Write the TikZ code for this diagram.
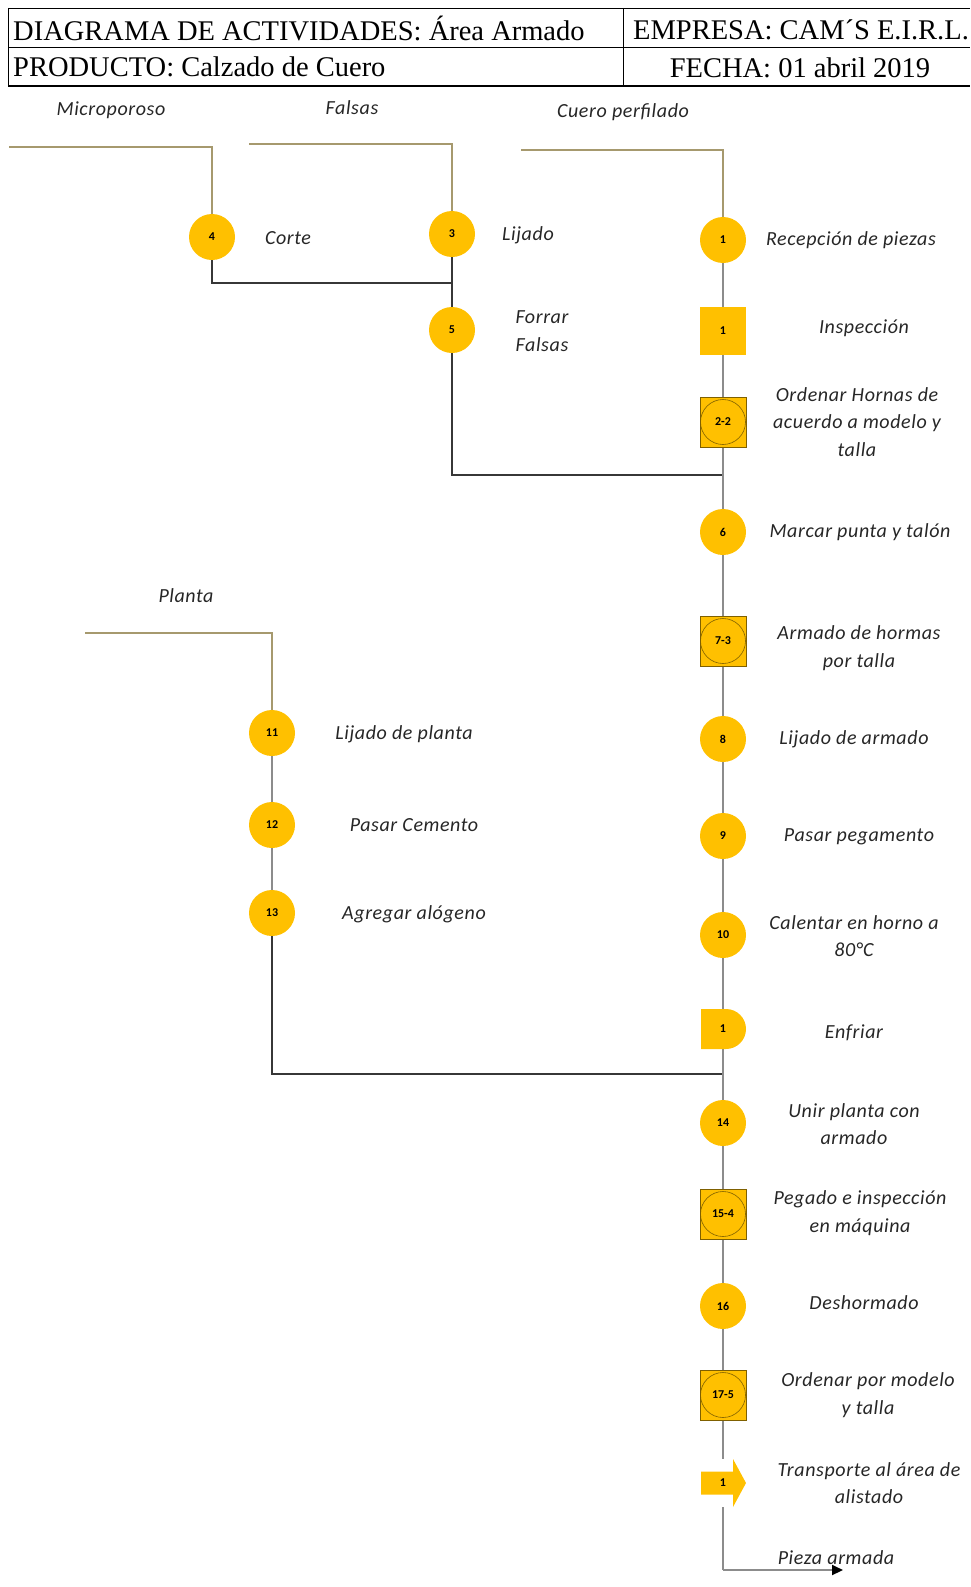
\documentclass[tikz,border=0pt]{standalone}
\usepackage{fontspec}
\setmainfont{Liberation Serif}
\newfontfamily\lblfam[LetterSpace=3]{Carlito}
\newfontfamily\numfam{Carlito}
\usetikzlibrary{arrows.meta}
\pgfdeclarelayer{bg}
\pgfsetlayers{bg,main}
\definecolor{gold}{RGB}{255,192,0}
\definecolor{goldedge}{RGB}{127,96,0}
\definecolor{tan}{RGB}{166,153,110}
\definecolor{flowgray}{RGB}{140,140,140}
\definecolor{joingray}{RGB}{55,55,55}
\tikzset{
  hdr/.style={font=\fontsize{28.5}{30}\selectfont, inner sep=0pt},
  lbl/.style={font=\lblfam\itshape\fontsize{20}{27.5}\selectfont, align=center, inner sep=0pt, text=black!85},
  num/.style={font=\numfam\bfseries\fontsize{12}{13}\selectfont, text=black},
  opc/.style={num, circle, fill=gold, minimum size=46pt, inner sep=0pt},
  insp/.style={num, rectangle, fill=gold, minimum width=46pt, minimum height=48pt, inner sep=0pt},
  combo/.style={num, rectangle, fill=gold, draw=goldedge, line width=0.6pt,
    minimum width=46pt, minimum height=50pt, inner sep=0pt,
    path picture={\draw[goldedge, line width=0.6pt] (path picture bounding box.center) circle (22.5pt);}},
  delaybox/.style={num, rectangle, minimum width=45pt, minimum height=40pt, inner sep=0pt},
  movebox/.style={num, rectangle, minimum width=45pt, minimum height=48pt, inner sep=0pt},
  feed/.style={tan, line width=1.4pt},
  flow/.style={flowgray, line width=2pt},
  joinline/.style={joingray, line width=1.3pt},
}
\begin{document}
\begin{tikzpicture}[x=1pt,y=1pt]
\useasboundingbox (0,0) rectangle (970,-1587);

% header table
\draw[black, line width=0.9pt] (8,-8) -- (970,-8);
\draw[black, line width=0.9pt] (8,-47) -- (970,-47);
\draw[black, line width=2pt] (8,-86) -- (970,-86);
\draw[black, line width=0.9pt] (8,-8) -- (8,-86);
\draw[black, line width=0.9pt] (623,-8) -- (623,-86);
\node[hdr, anchor=west] (h1) at (13,-28) {DIAGRAMA DE ACTIVIDADES: Área Armado};
\node[hdr, anchor=west] (h2) at (633,-30) {EMPRESA: CAM´S E.I.R.L.};
\node[hdr, anchor=west] (h3) at (13,-67) {PRODUCTO: Calzado de Cuero};
\node[hdr] (h4) at (800,-68) {FECHA: 01 abril 2019};

% symbols, left branches
\node[opc] (c4) at (212,-237) {4};
\node[opc] (c3) at (452,-234) {3};
\node[opc] (c5) at (452,-330) {5};
\node[opc] (c11) at (272,-733) {11};
\node[opc] (c12) at (272,-825) {12};
\node[opc] (c13) at (272,-913) {13};

% symbols, main line
\node[opc] (r1) at (723,-240) {1};
\node[insp] (i1) at (723,-331) {1};
\node[combo] (c22) at (723,-422) {2-2};
\node[opc] (c6) at (723,-532) {6};
\node[combo] (c73) at (723,-641) {7-3};
\node[opc] (c8) at (723,-739) {8};
\node[opc] (c9) at (723,-836) {9};
\node[opc] (c10) at (723,-935) {10};
\node[delaybox] (d1) at (723,-1029) {};
\node[opc] (c14) at (723,-1123) {14};
\node[combo] (c154) at (723,-1214) {15-4};
\node[opc] (c16) at (723,-1306) {16};
\node[combo] (c175) at (723,-1395) {17-5};
\node[movebox] (t1) at (723,-1483) {};

% delay (D shape) and transport (arrow) bodies
\fill[gold, shift={(d1)}] (-22,-20) -- (-22,20) -- (3,20) arc[start angle=90, end angle=-90, radius=20] -- cycle;
\node[num] (d1n) at (d1) {1};
\fill[gold, shift={(t1)}] (-22,11.5) -- (10,11.5) -- (10,24) -- (23,0) -- (10,-24) -- (10,-11.5) -- (-22,-11.5) -- cycle;
\node[num] (t1n) at (t1) {1};

% free ends and junctions
\coordinate (mp) at (9,-147);
\coordinate (fa) at (249,-144);
\coordinate (cp) at (521,-150);
\coordinate (pl) at (85,-633);
\coordinate (j1) at (452,-283);
\coordinate (j2) at (723,-475);
\coordinate (j3) at (723,-1074);
\coordinate (bend) at (723,-1570);
\coordinate (out) at (843,-1570);

\begin{pgfonlayer}{bg}
  % incoming materials
  \draw[feed] (mp) -| (c4);
  \draw[feed] (fa) -| (c3);
  \draw[feed] (cp) -| (r1);
  \draw[feed] (pl) -| (c11);
  % branch lines
  \draw[joinline] (c4) |- (j1);
  \draw[joinline] (c3) -- (c5);
  \draw[joinline] (c5) |- (j2);
  \draw[flow] (c11) -- (c12) -- (c13);
  \draw[joinline] (c13) |- (j3);
  % main line
  \draw[flow] (r1) -- (i1) -- (c22) -- (c6) -- (c73) -- (c8) -- (c9) -- (c10) -- (d1)
    -- (c14) -- (c154) -- (c16) -- (c175) -- (t1) -- (bend);
  \draw[flow, -{Triangle[length=11pt, width=10pt, color=black]}] (bend) -- (out);
\end{pgfonlayer}

% labels
\node[lbl] (lmp) at (111,-110) {Microporoso};
\node[lbl] (lfa) at (352,-108) {Falsas};
\node[lbl] (lcp) at (623,-112) {Cuero perfilado};
\node[lbl] (lpl) at (186,-596) {Planta};
\node[lbl] (l4) at (288,-238) {Corte};
\node[lbl] (l3) at (528,-235) {Lijado};
\node[lbl] (l5) at (542,-331) {Forrar\\Falsas};
\node[lbl] (lr1) at (851,-240) {Recepción de piezas};
\node[lbl] (li1) at (864,-328) {Inspección};
\node[lbl] (l22) at (857,-422) {Ordenar Hornas de\\acuerdo a modelo y\\talla};
\node[lbl] (l6) at (860,-532) {Marcar punta y talón};
\node[lbl] (l73) at (859,-648) {Armado de hormas\\por talla};
\node[lbl] (l8) at (854,-739) {Lijado de armado};
\node[lbl] (l9) at (859,-837) {Pasar pegamento};
\node[lbl] (l10) at (854,-936) {Calentar en horno a\\80°C};
\node[lbl] (ld1) at (854,-1033) {Enfriar};
\node[lbl] (l14) at (854,-1124) {Unir planta con\\armado};
\node[lbl] (l154) at (860,-1213) {Pegado e inspección\\en máquina};
\node[lbl] (l16) at (864,-1303) {Deshormado};
\node[lbl] (l175) at (868,-1395) {Ordenar por modelo\\y talla};
\node[lbl] (lt1) at (869,-1483) {Transporte al área de\\alistado};
\node[lbl] (lout) at (836,-1558) {Pieza armada};
\node[lbl] (l11) at (404,-734) {Lijado de planta};
\node[lbl] (l12) at (414,-825) {Pasar Cemento};
\node[lbl] (l13) at (414,-914) {Agregar alógeno};
\end{tikzpicture}
\end{document}
